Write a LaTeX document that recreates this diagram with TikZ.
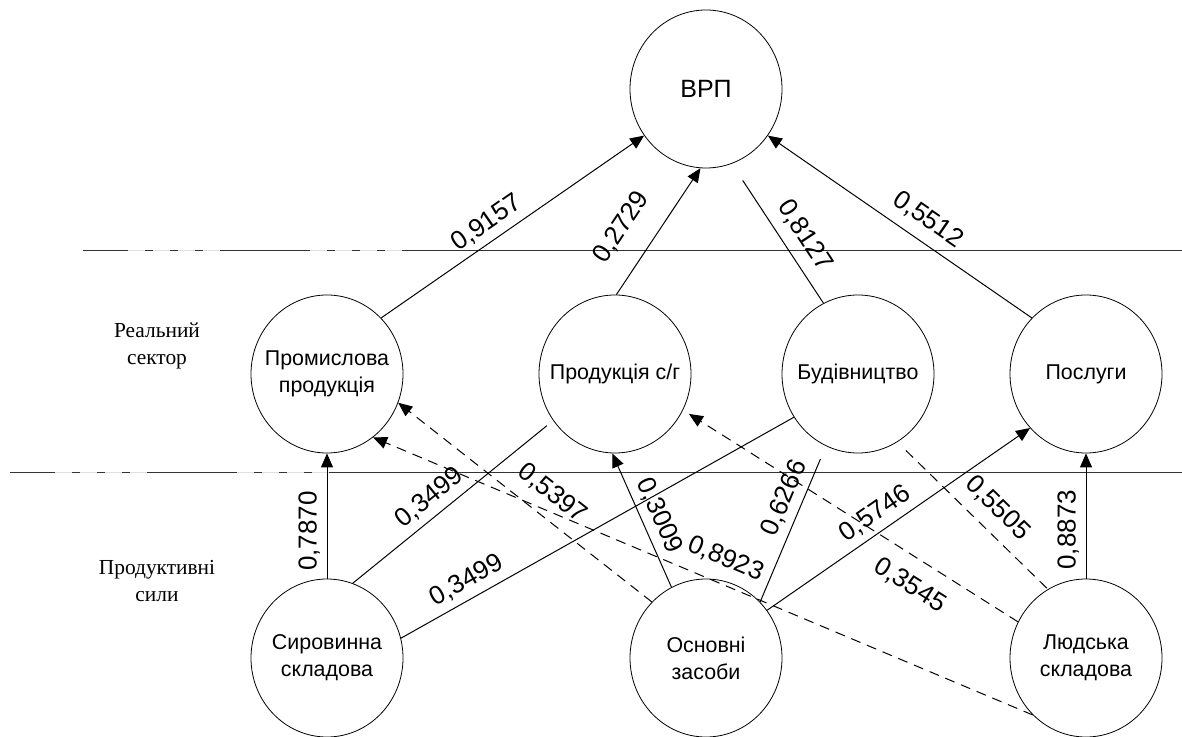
\documentclass[tikz,border=0pt]{standalone}
\usepackage{fontspec}
\setmainfont{Liberation Serif}
\setsansfont{Liberation Sans}
\usetikzlibrary{shapes.geometric,arrows.meta}

\begin{document}
\begin{tikzpicture}[x=0.5pt, y=-0.5pt,
  unit/.style={ellipse, draw, line width=0.4pt, minimum width=76pt, minimum height=79pt, inner sep=0pt},
  txt/.style={font=\fontsize{10.7}{13.5}\selectfont\sffamily, align=center},
  side/.style={font=\fontsize{10.7}{13.5}\selectfont\rmfamily, align=center},
  coef/.style={font=\fontsize{13}{15}\selectfont\sffamily, sloped},
  link/.style={line width=0.5pt},
  arr/.style={link, -{Triangle[length=7pt,width=6pt]}},
  dlink/.style={link, dash pattern=on 5pt off 3.5pt},
  darr/.style={arr, dash pattern=on 5pt off 3.5pt},
  divider/.style={draw=black!80, line width=0.45pt, dash pattern=on 22.5pt off 8.5pt on 4pt off 8.5pt on 4pt off 8.5pt on 4pt off 8.5pt on 45pt off 8.5pt on 4pt off 8.5pt on 4pt off 8.5pt on 4pt off 8.5pt on 700pt}]

\useasboundingbox (0,0) rectangle (1182,737);

\draw[black!12, line width=0.45pt] (83,250) -- (402,250);
\draw[divider] (83,250) -- (1182,250);
\draw[black!12, line width=0.45pt] (10,472) -- (329,472);
\draw[divider] (10,472) -- (1182,472);

\node[side] (real) at (157,346) {Реальний\\сектор};
\node[side] (syly) at (157,581) {Продуктивні\\сили};

\node[unit, label={[txt, font=\fontsize{12.5}{15}\selectfont\sffamily]center:ВРП}] (vrp) at (706,89) {};
\node[unit, label={[txt]center:{Промислова\\продукція}}] (prom) at (327,374) {};
\node[unit, label={[txt]center:Продукція с/г}] (prod_sg) at (615,374) {};
\node[unit, label={[txt]center:Будівництво}] (bud) at (858,374) {};
\node[unit, label={[txt]center:Послуги}] (posl) at (1086,374) {};
\node[unit, label={[txt]center:{Сировинна\\складова}}] (syr) at (327,658) {};
\node[unit, label={[txt]center:{Основні\\засоби}}] (osn) at (706,658) {};
\node[unit, label={[txt]center:{Людська\\складова}}] (lyud) at (1086,658) {};

\draw[arr] (prom.46) -- node[coef, above, pos=0.44] {0,9157} (vrp.217);
\draw[arr] (prod_sg.89) -- node[coef, above=7.5pt, pos=0.39] {0,2729} (vrp.266);
\draw[link, shorten <=10pt] (vrp.-71) -- node[coef, above=2pt, pos=0.6] {0,8127} (bud.116);
\draw[arr] (posl.134) -- node[coef, above=2pt, pos=0.44] {0,5512} (vrp.-37);

\draw[arr] (syr.90) -- node[coef, above, pos=0.38] {0,7870} (prom.270);
\draw[link, shorten >=4pt] (syr.71) -- node[coef, above, pos=0.44] {0,3499} (prod_sg.217);
\draw[link] (syr.15) -- node[coef, above, pos=0.19] {0,3499} (bud.214);
\draw[arr] (osn.116) -- node[coef, above, pos=0.48] {0,3009} (prod_sg.268);
\draw[link, shorten >=7pt] (osn.46) -- node[coef, above, pos=0.62] {0,6266} (bud.246);
\draw[arr] (osn.38) -- node[coef, above, pos=0.45] {0,5746} (posl.224);
\draw[arr] (lyud.90) -- node[coef, above, pos=0.39] {0,8873} (posl.270);

\draw[darr] (osn.134) -- node[coef, above=3pt, pos=0.45] {0,5397} (prom.-22);
\draw[darr] (lyud.227) -- node[coef, above=3.5pt, pos=0.48] {0,8923} (prom.-54);
\draw[darr, shorten >=3.5pt] (lyud.152) -- node[coef, below=4.5pt, pos=0.28] {0,3545} (prod_sg.-28);
\draw[dlink, shorten <=6pt] (bud.-60) -- node[coef, above=2.5pt, pos=0.56] {0,5505} (lyud.119);
\end{tikzpicture}
\end{document}
